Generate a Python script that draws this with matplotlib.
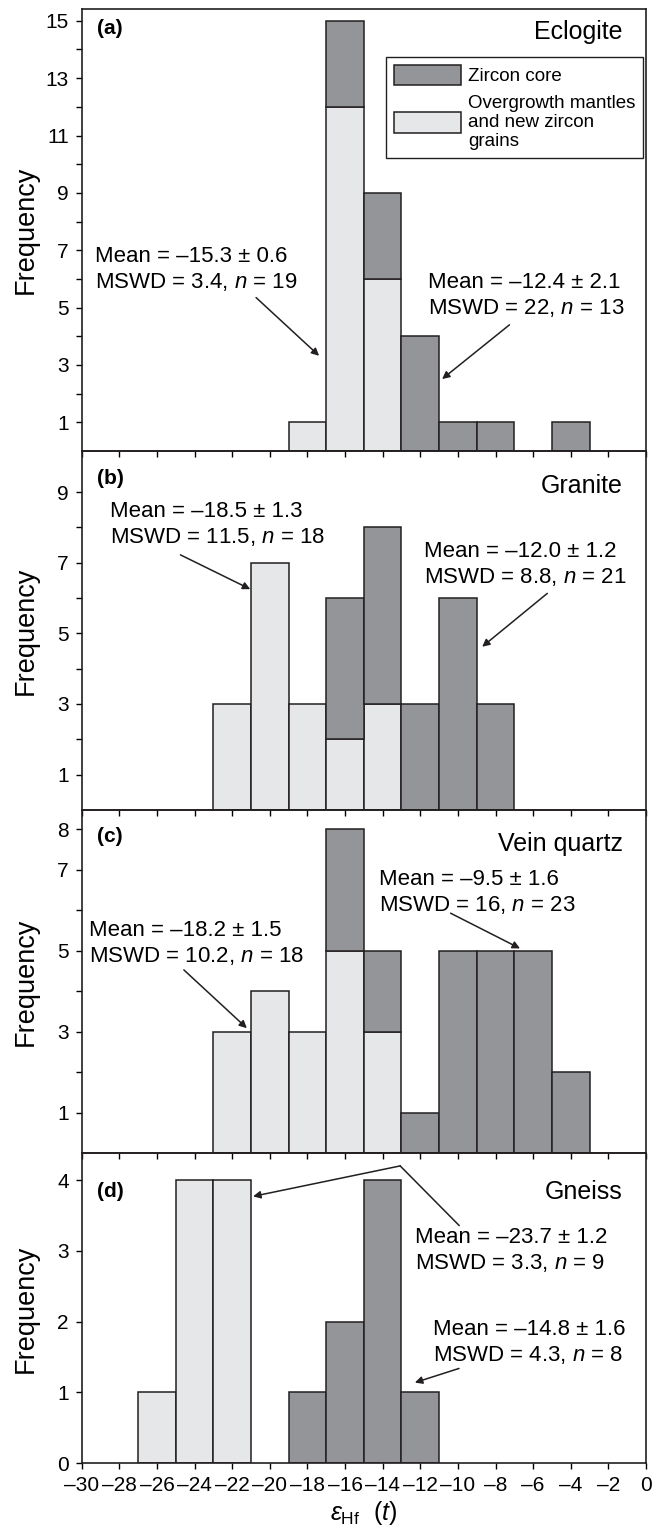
import numpy as np
import matplotlib
matplotlib.use('Agg')
import matplotlib.pyplot as plt
from matplotlib.patches import Patch

plt.rcParams['font.family'] = ['Liberation Sans', 'DejaVu Sans']
plt.rcParams['mathtext.fontset'] = 'custom'
plt.rcParams['mathtext.rm'] = 'Liberation Sans'
plt.rcParams['mathtext.it'] = 'Liberation Sans:italic'
plt.rcParams['mathtext.bf'] = 'Liberation Sans:bold'

# bin centres, 2 eHf units wide
centres = np.array([-26, -24, -22, -20, -18, -16, -14, -12, -10, -8, -6, -4])

# counts: overgrowth mantles / new grains (light) and zircon cores (dark)
ecl_light = [0, 0, 0, 0, 1, 12, 6, 0, 0, 0, 0, 0]
ecl_dark  = [0, 0, 0, 0, 0, 3, 3, 4, 1, 1, 0, 1]
gra_light = [0, 0, 3, 7, 3, 2, 3, 0, 0, 0, 0, 0]
gra_dark  = [0, 0, 0, 0, 0, 4, 5, 3, 6, 3, 0, 0]
vein_light = [0, 0, 3, 4, 3, 5, 3, 0, 0, 0, 0, 0]
vein_dark  = [0, 0, 0, 0, 0, 3, 2, 1, 5, 5, 5, 2]
gne_light = [1, 4, 4, 0, 0, 0, 0, 0, 0, 0, 0, 0]
gne_dark  = [0, 0, 0, 0, 1, 2, 4, 1, 0, 0, 0, 0]

names = ['Eclogite', 'Granite', 'Vein quartz', 'Gneiss']
letters = ['(a)', '(b)', '(c)', '(d)']
light_counts = [ecl_light, gra_light, vein_light, gne_light]
dark_counts = [ecl_dark, gra_dark, vein_dark, gne_dark]

# annotation text, its left x / centre y, and the arrow path (data units)
stats = [
    [('Mean = \u201315.3 \u00b1 0.6\nMSWD = 3.4, $n$ = 19', -29.3, 6.33, [(-20.73, 5.35), (-17.38, 3.32)]),
     ('Mean = \u201312.4 \u00b1 2.1\nMSWD = 22, $n$ = 13', -11.6, 5.43, [(-7.26, 4.40), (-10.84, 2.51)])],
    [('Mean = \u201318.5 \u00b1 1.3\nMSWD = 11.5, $n$ = 18', -28.5, 8.07, [(-24.75, 7.22), (-21.04, 6.25)]),
     ('Mean = \u201312.0 \u00b1 1.2\nMSWD = 8.8, $n$ = 21', -11.8, 6.94, [(-5.25, 6.13), (-8.71, 4.62)])],
    [('Mean = \u20139.5 \u00b1 1.6\nMSWD = 16, $n$ = 23', -14.2, 6.44, [(-10.39, 5.93), (-6.70, 5.06)]),
     ('Mean = \u201318.2 \u00b1 1.5\nMSWD = 10.2, $n$ = 18', -29.6, 5.18, [(-24.57, 4.53), (-21.22, 3.09)])],
    [('Mean = \u201323.7 \u00b1 1.2\nMSWD = 3.3, $n$ = 9', -12.3, 3.01, [(-9.94, 3.36), (-13.07, 4.20), (-20.89, 3.77)]),
     ('Mean = \u201314.8 \u00b1 1.6\nMSWD = 4.3, $n$ = 8', -11.35, 1.71, [(-9.94, 1.34), (-12.29, 1.14)])],
]

ylims = [15.4, 10.16, 8.48, 4.377]
yticks = [range(1, 16), range(1, 10), range(1, 9), range(0, 5)]
ylabels_shown = [[1, 3, 5, 7, 9, 11, 13, 15], [1, 3, 5, 7, 9], [1, 3, 5, 7, 8], [0, 1, 2, 3, 4]]

# axes boxes (left, bottom, width, height) in figure fraction
boxes = [[0.1242, 0.7056, 0.8576, 0.2883],
         [0.1242, 0.4713, 0.8576, 0.2343],
         [0.1242, 0.2472, 0.8576, 0.2241],
         [0.1242, 0.04484, 0.8576, 0.2023]]
# distance (px) of panel letter / sample name centre below top of frame
letter_off = [18.7, 27, 26.7, 38.4]
name_off = [22.7, 35, 34, 38.4]

dark = '#939598'
light = '#e6e7e8'
edge = '#231f20'

fig = plt.figure(figsize=(6.58, 15.32), dpi=100)

for i in range(4):
    ax = fig.add_axes(boxes[i])
    ax.set_facecolor('none')
    lc = np.array(light_counts[i])
    dc = np.array(dark_counts[i])
    m = lc > 0
    ax.bar(centres[m], lc[m], width=2, color=light, edgecolor=edge, linewidth=1.1, zorder=2)
    m = dc > 0
    ax.bar(centres[m], dc[m], width=2, bottom=lc[m], color=dark, edgecolor=edge, linewidth=1.1, zorder=2)

    ax.set_xlim(-30, 0)
    ax.set_ylim(0, ylims[i])
    ax.set_xticks(np.arange(-30, 1, 2))
    yt = list(yticks[i])
    ax.set_yticks(yt)
    ax.set_yticklabels([str(v) if v in ylabels_shown[i] else '' for v in yt])
    ax.tick_params(direction='out', length=4.2, width=1.0, pad=5, labelsize=15)
    for s in ax.spines.values():
        s.set_linewidth(1.2)
        s.set_color(edge)
    if i < 3:
        ax.tick_params(axis='x', labelbottom=False)
    else:
        ax.set_xticklabels(['\u2013%d' % abs(v) if v < 0 else '0' for v in np.arange(-30, 1, 2)])
        ax.set_xlabel(r'$\varepsilon_{\mathrm{Hf}}\ \ (t)$', fontsize=18, labelpad=3)

    ax.set_ylabel('Frequency', fontsize=19.5)
    ax.yaxis.set_label_coords(-0.077, 0.5)

    ax.annotate(letters[i], xy=(0.027, 1), xycoords='axes fraction',
                xytext=(0, -letter_off[i] * 0.72), textcoords='offset points',
                fontsize=15, fontweight='bold', ha='left', va='center')
    ax.annotate(names[i], xy=(0.959, 1), xycoords='axes fraction',
                xytext=(0, -name_off[i] * 0.72), textcoords='offset points',
                fontsize=18, ha='right', va='center')

    for txt, tx, ty, pts in stats[i]:
        ax.text(tx, ty, txt, fontsize=16, ha='left', va='center', linespacing=1.22, zorder=5)
        if len(pts) == 3:
            ax.plot([pts[0][0], pts[1][0]], [pts[0][1], pts[1][1]], color=edge, lw=1.1)
            pts = pts[1:]
        ax.annotate('', xy=pts[1], xytext=pts[0],
                    arrowprops=dict(arrowstyle='-|>', color=edge, lw=1.1, mutation_scale=11,
                                    shrinkA=0, shrinkB=0))

    if i == 0:
        handles = [Patch(facecolor=dark, edgecolor=edge, linewidth=1.1, label='Zircon core'),
                   Patch(facecolor=light, edgecolor=edge, linewidth=1.1,
                         label='Overgrowth mantles\nand new zircon\ngrains')]
        leg = ax.legend(handles=handles, loc='upper right', bbox_to_anchor=(0.9947, 0.8927),
                        fontsize=13.5, fancybox=False, edgecolor=edge, framealpha=1,
                        borderaxespad=0, handlelength=3.6, handleheight=1.33,
                        handletextpad=0.36, borderpad=0.42, labelspacing=0.5)
        leg.get_frame().set_linewidth(1.0)
        for t in leg.get_texts():
            t.set_linespacing(1.18)

fig.savefig('out.png', dpi=100)
